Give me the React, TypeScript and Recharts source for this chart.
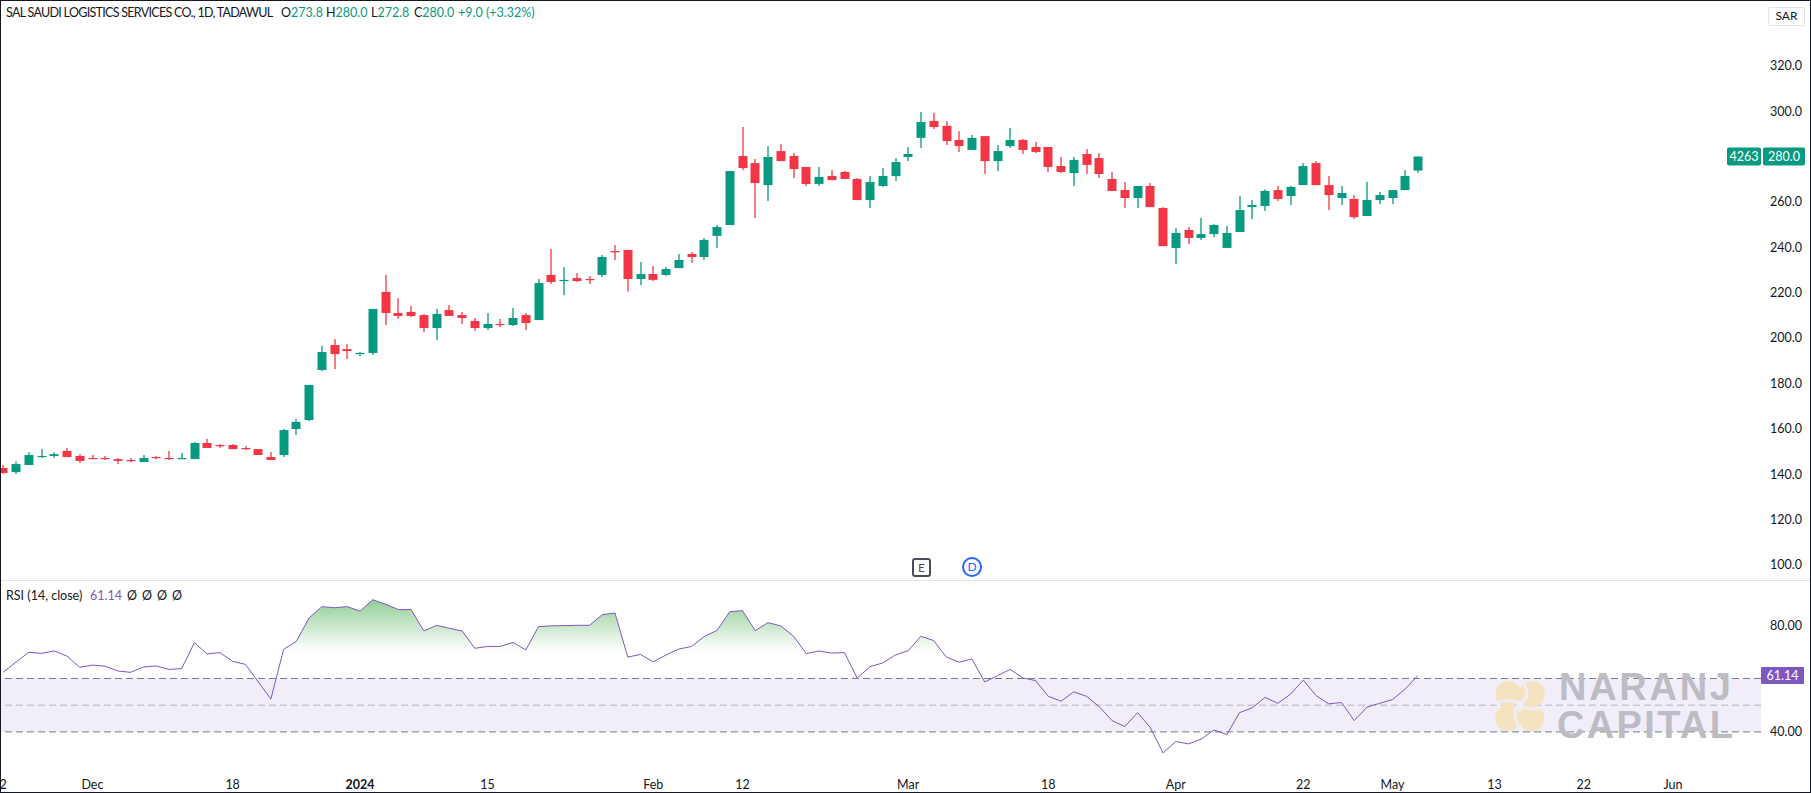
import React from "react";
import {
    ComposedChart,
    Bar,
    Line,
    Area,
    XAxis,
    YAxis,
    ReferenceArea,
    ReferenceLine,
} from "recharts";

const FONT = "Lato, sans-serif";
const UP = "#089981";
const DOWN = "#f23645";
const PURPLE = "#7e57c2";
const TEXT = "#131722";

// candles, oldest first
const opens = [
    142.7, 140.9, 144.0, 147.5, 148.0, 150.2, 148.0, 147.1, 147.1, 146.6, 146.2, 145.3, 147.5, 147.1,
    146.6, 146.6, 153.7, 152.8, 152.8, 151.5, 151.0, 147.5, 148.4, 159.9, 163.8, 185.9, 196.9, 195.1,
    192.9, 193.4, 220.3, 211.0, 211.5, 210.1, 204.4, 212.3, 210.1, 207.5, 204.4, 206.2, 205.7, 210.1,
    207.9, 227.8, 225.1, 226.4, 226.0, 227.8, 238.3, 238.8, 226.0, 228.2, 227.8, 230.8, 237.0, 235.7,
    245.0, 249.8, 280.2, 277.1, 267.4, 282.4, 280.2, 275.4, 267.9, 271.4, 273.2, 270.1, 260.8, 267.0,
    271.4, 279.8, 288.2, 295.7, 293.5, 287.3, 282.9, 289.0, 278.0, 284.6, 287.3, 284.2, 284.2, 275.8,
    272.7, 281.1, 279.3, 270.1, 265.2, 261.7, 267.0, 257.3, 239.7, 247.6, 244.1, 245.8, 239.7, 246.7,
    257.7, 258.2, 265.2, 262.6, 267.4, 277.1, 267.4, 261.7, 261.3, 253.8, 260.8, 261.7, 265.2, 273.8,
];
const highs = [
    144.0, 145.6, 149.6, 151.0, 149.6, 151.5, 148.8, 148.4, 148.0, 147.1, 147.1, 148.4, 148.0, 150.2,
    149.3, 154.1, 155.5, 153.2, 153.2, 152.4, 151.0, 149.7, 159.9, 164.3, 179.3, 196.5, 199.5, 197.3,
    193.8, 212.8, 227.8, 217.6, 214.1, 210.6, 212.8, 214.5, 211.5, 208.8, 211.0, 208.4, 213.2, 211.0,
    226.0, 239.2, 231.3, 228.6, 227.3, 236.6, 241.0, 238.8, 233.5, 231.7, 231.3, 237.0, 237.9, 244.1,
    249.8, 273.6, 293.0, 278.9, 284.6, 285.5, 281.5, 275.4, 275.4, 274.0, 273.6, 270.5, 271.4, 274.9,
    279.3, 284.2, 299.6, 299.2, 295.7, 291.2, 289.5, 289.0, 285.1, 292.6, 287.7, 286.4, 284.2, 279.8,
    279.8, 283.3, 281.5, 273.2, 268.8, 267.0, 268.3, 257.7, 248.5, 248.9, 252.9, 250.2, 249.4, 262.6,
    260.8, 265.5, 267.0, 267.0, 277.1, 278.0, 271.4, 267.0, 263.0, 268.8, 264.4, 265.2, 274.0, 280.0,
];
const lows = [
    140.0, 140.0, 144.0, 147.1, 147.2, 147.5, 144.9, 146.6, 146.2, 144.4, 145.3, 145.3, 146.6, 146.2,
    146.6, 146.6, 151.5, 151.5, 151.0, 150.6, 148.4, 146.2, 147.5, 157.2, 163.4, 185.4, 186.3, 190.7,
    192.0, 192.5, 205.7, 208.4, 209.2, 202.6, 199.1, 209.7, 206.2, 203.1, 203.5, 204.8, 205.3, 203.5,
    207.9, 223.8, 218.9, 224.7, 223.8, 226.9, 234.4, 220.4, 223.3, 225.1, 227.3, 230.8, 233.1, 234.4,
    239.7, 249.8, 274.0, 252.9, 260.4, 278.0, 270.5, 267.0, 267.0, 269.6, 270.1, 260.8, 257.3, 266.6,
    269.2, 278.0, 283.8, 292.1, 285.1, 282.0, 282.9, 272.3, 273.6, 283.8, 281.1, 281.5, 273.2, 272.7,
    267.0, 272.3, 270.5, 264.8, 257.3, 257.3, 257.7, 240.5, 232.6, 241.4, 243.2, 244.5, 239.7, 246.7,
    252.4, 256.0, 260.4, 258.6, 267.4, 267.4, 256.4, 258.6, 252.5, 253.8, 259.0, 259.0, 265.2, 272.8,
];
const closes = [
    140.5, 144.4, 148.4, 148.0, 148.8, 147.5, 145.8, 146.6, 146.6, 145.8, 145.8, 147.1, 147.1, 146.6,
    147.1, 153.7, 151.5, 152.4, 151.0, 151.0, 148.4, 146.2, 159.4, 163.0, 179.3, 193.8, 192.9, 194.2,
    193.4, 212.8, 211.0, 209.7, 209.7, 204.4, 210.6, 209.7, 208.8, 204.4, 206.2, 205.7, 208.8, 206.6,
    224.2, 224.7, 225.6, 225.1, 225.6, 235.7, 237.9, 226.0, 228.2, 225.6, 230.4, 234.4, 235.7, 243.2,
    248.9, 273.6, 274.9, 268.3, 279.8, 278.0, 274.5, 267.9, 271.0, 269.6, 270.1, 260.8, 268.8, 271.4,
    277.6, 281.1, 295.2, 293.0, 286.8, 284.6, 288.2, 278.0, 282.4, 287.3, 282.9, 282.0, 275.4, 273.2,
    278.5, 276.3, 272.3, 264.8, 261.7, 267.0, 257.7, 240.5, 246.3, 244.1, 245.8, 249.8, 246.3, 256.4,
    258.6, 264.8, 261.3, 266.6, 275.8, 267.4, 263.0, 263.9, 253.3, 260.8, 263.0, 265.2, 271.4, 280.0,
];

const rsiValues = [
    62.3, 66.1, 69.8, 69.4, 70.3, 68.4, 64.2, 65.0, 64.6, 62.8, 62.3, 64.3, 64.7, 63.4,
    63.7, 73.4, 69.2, 69.7, 66.4, 65.3, 58.8, 52.3, 70.9, 73.9, 82.7, 86.9, 86.5, 86.9,
    85.2, 89.5, 87.8, 85.8, 85.8, 77.8, 79.9, 78.8, 77.8, 71.3, 72.0, 72.0, 73.5, 70.7,
    79.4, 79.7, 79.8, 79.9, 79.9, 83.9, 84.5, 68.0, 69.0, 66.2, 68.8, 71.0, 72.0, 75.7,
    78.0, 85.0, 85.4, 77.9, 80.9, 79.7, 75.9, 69.3, 70.3, 69.5, 69.7, 60.2, 64.4, 65.8,
    68.8, 70.4, 75.8, 74.2, 68.0, 66.1, 67.3, 58.7, 61.0, 63.4, 60.2, 59.2, 53.3, 51.5,
    55.0, 53.3, 49.4, 44.2, 42.0, 47.2, 41.6, 32.1, 36.4, 35.5, 37.3, 40.7, 39.0, 47.2,
    49.0, 52.9, 50.7, 54.1, 59.4, 53.6, 50.5, 51.0, 44.2, 49.3, 50.7, 52.1, 56.1, 61.14,
];

const timeTicks = [0, 7, 18, 28, 38, 51, 58, 71, 82, 92, 102, 109, 117, 124, 131];
const timeLabels = ["2", "Dec", "18", "2024", "15", "Feb", "12", "Mar", "18", "Apr", "22", "May", "13", "22", "Jun"];
const priceTicks = [100, 120, 140, 160, 180, 200, 220, 240, 260, 280, 300, 320];
const rsiTicks = [40, 61.14, 80];

const CHART_WIDTH = 1811;
const AXIS_WIDTH = 50;
const xDomain = [-0.251, 137.91];

const priceData = opens.map((open, i) => ({
    i,
    open,
    high: highs[i],
    low: lows[i],
    close: closes[i],
}));
const rsiData = rsiValues.map((rsi, i) => ({ i, rsi }));

const Candle = (props: any) => {
    const { x, y, width, height, payload } = props;
    const { open, high, low, close } = payload;
    const color = close >= open ? UP : DOWN;
    const perUnit = height / (high - low);
    const top = y + (high - Math.max(open, close)) * perUnit;
    const bodyHeight = Math.max(Math.abs(open - close) * perUnit, 1.2);
    const cx = Math.round(x + width / 2);
    return (
        <g>
            <rect x={cx - 0.65} y={y} width={1.3} height={height} fill={color} />
            <rect x={cx - 4.5} y={top} width={9} height={bodyHeight} fill={color} />
        </g>
    );
};

const PriceTick = (props: any) => {
    const { x, y, payload } = props;
    if (payload.value === 280) {
        // last price tag, the bar countdown sits left of the axis
        return (
            <g fontFamily={FONT} fontSize={12.5} fill="#fff">
                <rect x={x - 42} y={y - 9} width={34} height={18} rx={2} fill={UP} />
                <rect x={x - 6} y={y - 9} width={42} height={18} rx={2} fill={UP} />
                <text x={x - 25} y={y + 4.5} textAnchor="middle">4263</text>
                <text x={x + 15} y={y + 4.5} textAnchor="middle">280.0</text>
            </g>
        );
    }
    return (
        <text x={x + 1} y={y + 4.5} fontFamily={FONT} fontSize={12.5} fill={TEXT}>
            {payload.value.toFixed(1)}
        </text>
    );
};

const RsiTick = (props: any) => {
    const { x, y, payload } = props;
    if (payload.value === 61.14) {
        return (
            <g fontFamily={FONT} fontSize={12.5}>
                <rect x={x - 8} y={y - 8.5} width={43} height={17} rx={1} fill={PURPLE} />
                <text x={x + 13.5} y={y + 4.5} textAnchor="middle" fill="#fff">61.14</text>
            </g>
        );
    }
    return (
        <text x={x + 1} y={y + 4.5} fontFamily={FONT} fontSize={12.5} fill={TEXT}>
            {payload.value.toFixed(2)}
        </text>
    );
};

const TimeTick = (props: any) => {
    const { x, y, payload } = props;
    const label = timeLabels[timeTicks.indexOf(payload.value)];
    return (
        <text
            x={x}
            y={y + 20}
            textAnchor="middle"
            fontFamily={FONT}
            fontSize={12.5}
            fontWeight={label === "2024" ? 700 : 400}
            fill={TEXT}
        >
            {label}
        </text>
    );
};

const Label = ({ x, y, color = TEXT, spacing = 0, children }: any) => (
    <span style={{ position: "absolute", left: x, top: y, color, letterSpacing: spacing, whiteSpace: "pre" }}>
        {children}
    </span>
);

const Watermark = () => (
    <svg width={CHART_WIDTH} height={793} style={{ position: "absolute", left: 0, top: 0 }}>
        <g transform="translate(1520 706)" fill="#f5e3c0">
            <circle cx={-11.5} cy={-12} r={13} />
            <circle cx={12} cy={-12} r={13} />
            <circle cx={-12} cy={12} r={13} />
            <circle cx={11.5} cy={12} r={13} />
            <path d="M1,-25 Q13,-12 1,-3 Q-12,6 2,25" fill="none" stroke="#f0edf8" strokeWidth={3} />
            <path d="M-25,-2 Q-11,-9 0,-2 Q11,7 25,0" fill="none" stroke="#f0edf8" strokeWidth={3} />
        </g>
        <g fontFamily="'Liberation Sans', sans-serif" fontWeight={700} fill="#bdbbc3" fontSize={38}>
            <text x={1559} y={700} textLength={172} lengthAdjust="spacing">NARANJ</text>
            <text x={1557} y={738} textLength={176} lengthAdjust="spacing">CAPITAL</text>
        </g>
    </svg>
);

export default function App() {
    return (
        <div
            style={{
                position: "absolute",
                left: 0,
                top: 0,
                width: CHART_WIDTH,
                height: 793,
                background: "#fff",
                overflow: "hidden",
                fontFamily: FONT,
                fontSize: 12.5,
                lineHeight: "16px",
            }}
        >
            <div style={{ position: "absolute", left: 0, top: 0 }}>
                <ComposedChart
                    width={CHART_WIDTH}
                    height={580}
                    data={priceData}
                    margin={{ top: 0, right: 0, bottom: 0, left: 0 }}
                >
                    <XAxis dataKey="i" type="number" domain={xDomain} hide allowDataOverflow />
                    <YAxis
                        orientation="right"
                        width={AXIS_WIDTH}
                        domain={[93.3, 349.0]}
                        ticks={priceTicks}
                        interval={0}
                        allowDataOverflow
                        axisLine={false}
                        tickLine={false}
                        tick={PriceTick}
                    />
                    <Bar
                        dataKey={(d: any) => [d.low, d.high]}
                        barSize={9}
                        shape={Candle}
                        isAnimationActive={false}
                    />
                </ComposedChart>
            </div>

            <div style={{ position: "absolute", left: 0, top: 580, width: CHART_WIDTH, height: 1, background: "#e0e3eb" }} />

            <div style={{ position: "absolute", left: 0, top: 581 }}>
                <ComposedChart
                    width={CHART_WIDTH}
                    height={212}
                    data={rsiData}
                    margin={{ top: 0, right: 0, bottom: 0, left: 0 }}
                >
                    <defs>
                        <linearGradient id="overbought" gradientUnits="userSpaceOnUse" x1={0} y1={15} x2={0} y2={70}>
                            <stop offset="0%" stopColor="#4caf50" stopOpacity={0.65} />
                            <stop offset="100%" stopColor="#4caf50" stopOpacity={0} />
                        </linearGradient>
                    </defs>
                    <XAxis
                        dataKey="i"
                        type="number"
                        domain={xDomain}
                        ticks={timeTicks}
                        interval={0}
                        height={26}
                        allowDataOverflow
                        axisLine={false}
                        tickLine={false}
                        tickSize={0}
                        tick={TimeTick}
                    />
                    <YAxis
                        orientation="right"
                        width={AXIS_WIDTH}
                        domain={[26.85, 96.5]}
                        ticks={rsiTicks}
                        interval={0}
                        allowDataOverflow
                        axisLine={false}
                        tickLine={false}
                        tick={RsiTick}
                    />
                    <ReferenceArea y1={40} y2={60} fill={PURPLE} fillOpacity={0.1} stroke="none" />
                    <ReferenceLine y={60} stroke="#787b86" strokeDasharray="7 4" />
                    <ReferenceLine y={50} stroke="#787b86" strokeOpacity={0.5} strokeDasharray="7 4" />
                    <ReferenceLine y={40} stroke="#787b86" strokeDasharray="7 4" />
                    <Area
                        dataKey="rsi"
                        baseValue={70}
                        stroke="none"
                        fill="url(#overbought)"
                        fillOpacity={1}
                        dot={false}
                        activeDot={false}
                        isAnimationActive={false}
                    />
                    <Line
                        dataKey="rsi"
                        stroke={PURPLE}
                        strokeWidth={1}
                        dot={false}
                        activeDot={false}
                        isAnimationActive={false}
                    />
                </ComposedChart>
            </div>

            <Watermark />

            <Label x={6} y={5} spacing={-0.7}>SAL SAUDI LOGISTICS SERVICES CO., 1D, TADAWUL</Label>
            <Label x={281} y={5}>O<span style={{ color: UP }}>273.8</span></Label>
            <Label x={326} y={5}>H<span style={{ color: UP }}>280.0</span></Label>
            <Label x={371} y={5}>L<span style={{ color: UP }}>272.8</span></Label>
            <Label x={414} y={5}>C<span style={{ color: UP }}>280.0</span></Label>
            <Label x={458} y={5} color={UP}>+9.0 (+3.32%)</Label>

            <Label x={6} y={588}>RSI (14, close)</Label>
            <Label x={90} y={588} color={PURPLE}>61.14</Label>
            <Label x={127} y={588}>Ø</Label>
            <Label x={142} y={588}>Ø</Label>
            <Label x={157} y={588}>Ø</Label>
            <Label x={172} y={588}>Ø</Label>

            <div
                style={{
                    position: "absolute",
                    left: 1768,
                    top: 7,
                    width: 35,
                    height: 17,
                    border: "1px solid #e0e3eb",
                    borderRadius: 2,
                    textAlign: "center",
                    color: TEXT,
                    fontSize: 12,
                }}
            >
                SAR
            </div>

            <svg width={80} height={24} style={{ position: "absolute", left: 908, top: 555 }}>
                <rect x={5} y={4} width={17} height={17} rx={2} fill="#fff" stroke="#4a4d57" strokeWidth={2} />
                <text x={13.5} y={17} textAnchor="middle" fontFamily={FONT} fontSize={12} fill="#4a4d57">E</text>
                <circle cx={64} cy={12} r={9} fill="#fff" stroke="#2962ff" strokeWidth={2} />
                <text x={64} y={16} textAnchor="middle" fontFamily={FONT} fontSize={12} fill="#2962ff">D</text>
            </svg>

            <div
                style={{
                    position: "absolute",
                    left: 0,
                    top: 0,
                    width: CHART_WIDTH,
                    height: 793,
                    boxSizing: "border-box",
                    border: "1px solid #131722",
                }}
            />
        </div>
    );
}
